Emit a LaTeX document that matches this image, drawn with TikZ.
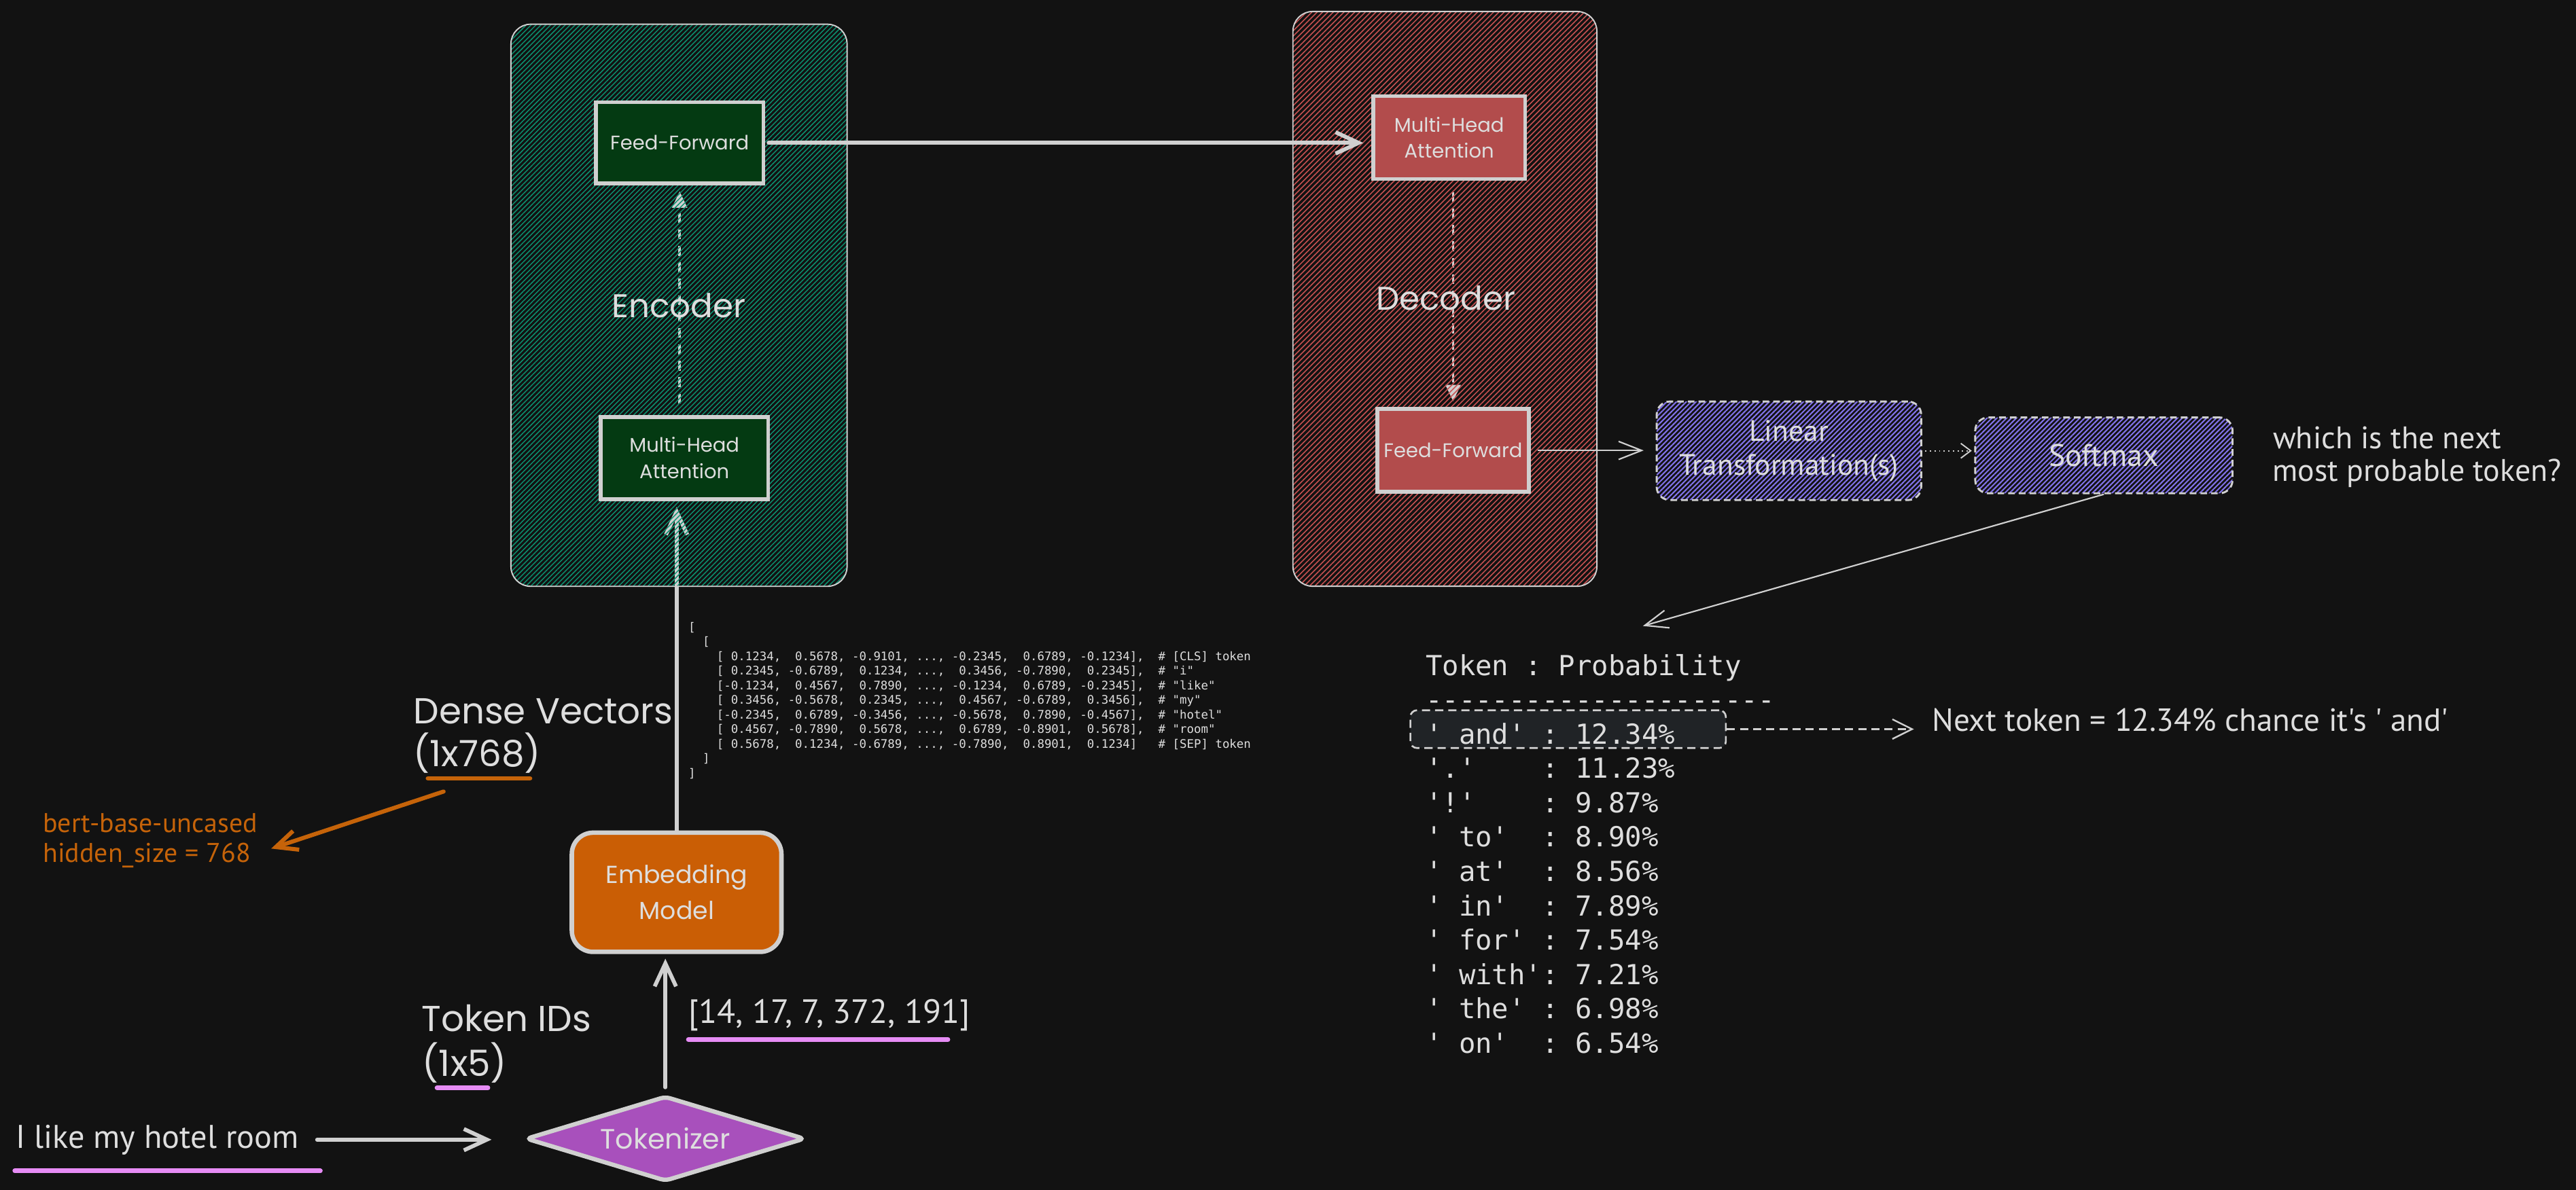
\documentclass[tikz,border=0pt]{standalone}
\usepackage{fontspec}
\newfontfamily\handfont{PT Sans}
\newfontfamily\boxfont{Poppins}
\setmonofont{DejaVu Sans Mono}
\usetikzlibrary{shapes.geometric,arrows.meta,positioning,patterns.meta}

\definecolor{canvas}{RGB}{18,18,18}
\definecolor{ink}{RGB}{222,222,222}
\definecolor{rim}{RGB}{208,208,208}
\definecolor{enchatch}{RGB}{12,145,112}
\definecolor{encfill}{RGB}{4,58,18}
\definecolor{dechatch}{RGB}{200,82,82}
\definecolor{decfill}{RGB}{178,76,76}
\definecolor{linhatch}{RGB}{130,115,235}
\definecolor{embfill}{RGB}{202,94,5}
\definecolor{tokfill}{RGB}{168,80,188}
\definecolor{penpink}{RGB}{230,140,245}
\definecolor{note}{RGB}{197,99,9}
\definecolor{pickfill}{RGB}{32,35,38}

\pgfdeclarelayer{under}
\pgfsetlayers{under,main}

\begin{document}
\begin{tikzpicture}[x=1pt, y=-1pt]
            \tikzstyle{stack} = [rectangle, draw=rim, line width=0.8pt, rounded corners=12pt, inner sep=0pt]
            \tikzstyle{encstack} = [stack, pattern={Lines[angle=45,distance=2.1pt,line width=0.6pt]}, pattern color=enchatch]
            \tikzstyle{decstack} = [stack, pattern={Lines[angle=45,distance=2.3pt,line width=0.65pt]}, pattern color=dechatch]
            \tikzstyle{stackname} = [text=ink, inner sep=0pt, font={\boxfont\fontsize{20}{24}\selectfont}]
            \tikzstyle{enclayer} = [rectangle, draw=rim, line width=2.3pt, fill=encfill, text=ink, align=center, inner sep=0pt, font={\boxfont\fontsize{12}{16}\selectfont}]
            \tikzstyle{declayer} = [enclayer, fill=decfill]
            \tikzstyle{headbox} = [rectangle, draw=rim, line width=1.2pt, dash pattern=on 4pt off 2.5pt, rounded corners=8pt, pattern={Lines[angle=45,distance=2.1pt,line width=0.85pt]}, pattern color=linhatch, text=ink, align=center, inner sep=0pt, font={\handfont\fontsize{18}{20.8}\selectfont}]
            \tikzstyle{embbox} = [rectangle, draw=rim, line width=2.7pt, fill=embfill, rounded corners=13pt, text=ink, align=center, inner sep=0pt, font={\boxfont\fontsize{15}{21.8}\selectfont}]
            \tikzstyle{tokbox} = [diamond, draw=rim, line width=2.6pt, fill=tokfill, rounded corners=3pt, aspect=3, text=ink, inner sep=0pt, font={\boxfont\fontsize{17}{20}\selectfont}]
            \tikzstyle{pickbox} = [rectangle, draw=rim, line width=1.1pt, dash pattern=on 5pt off 3pt, rounded corners=4pt, fill=pickfill, inner sep=0pt]
            \tikzstyle{bigtag} = [text=ink, inner sep=0pt, font={\boxfont\fontsize{22}{27}\selectfont}]
            \tikzstyle{handtag} = [text=ink, inner sep=0pt, font={\handfont\fontsize{20}{24}\selectfont}]
            \tikzstyle{notetag} = [text=note, inner sep=0pt, font={\handfont\fontsize{16.5}{18}\selectfont}]
            \tikzstyle{codeblock} = [text=ink, inner sep=0pt, align=left]
            \tikzstyle{arrow} = [draw=rim, line width=2.4pt, line cap=round, -{Straight Barb[length=14pt,width=13pt]}]
            \tikzstyle{thinarrow} = [draw=rim, line width=0.9pt, -{Straight Barb[length=14pt,width=11pt]}]
            \tikzstyle{flowarrow} = [draw=rim, line width=1.5pt, dash pattern=on 6pt off 4pt, -{Triangle[length=10pt,width=9pt]}]
            \tikzstyle{dotarrow} = [draw=rim, line width=0.8pt, dotted, -{Straight Barb[length=6pt,width=9pt]}]
            \tikzstyle{pickarrow} = [draw=rim, line width=1pt, dash pattern=on 5pt off 3pt, -{Straight Barb[length=12pt,width=12pt]}]
            \tikzstyle{notearrow} = [draw=note, line width=2.5pt, line cap=round, -{Straight Barb[length=13pt,width=12pt]}]
            \tikzstyle{scribble} = [draw=penpink, line width=2.8pt, line cap=round]

            \useasboundingbox (0,0) rectangle (1568,724.6);
            \begin{pgfonlayer}{under}
                \fill[canvas] (0,0) rectangle (1568,724.6);
            \end{pgfonlayer}

            % Encoder
            \node [encstack, minimum width=204.6pt, minimum height=342.3pt] (enc) at (413.3,185.9) {};
            \node [enclayer, minimum width=102pt, minimum height=49.5pt] (encff) at (413.7,87) {Feed-Forward};
            \node [enclayer, minimum width=102pt, minimum height=50pt] (encmha) at (416.6,278.9) {Multi-Head\\Attention};
            \node [stackname] (encname) at (enc.center) {Encoder};

            % Decoder
            \node [decstack, minimum width=185pt, minimum height=350pt] (dec) at (879.5,182) {};
            \node [declayer, minimum width=92.3pt, minimum height=50.5pt] (decmha) at (882.1,83.8) {Multi-Head\\Attention};
            \node [declayer, minimum width=92.3pt, minimum height=50.5pt] (decff) at (884.5,274.3) {Feed-Forward};
            \node [stackname] (decname) at (880,181.3) {Decoder};

            % Output head
            \node [headbox, minimum width=161pt, minimum height=60pt] (lin) at (1088.9,274.5) {Linear\\Transformation(s)};
            \node [headbox, minimum width=156.6pt, minimum height=46.2pt, font={\handfont\fontsize{19}{22}\selectfont}] (soft) at (1280.6,277.3) {Softmax};
            \node [handtag, anchor=base west, font={\handfont\fontsize{19}{22}\selectfont}] (q1) at (1383.4,273) {which is the next};
            \node [handtag, anchor=base west, font={\handfont\fontsize{19}{22}\selectfont}] (q2) at (1383,293) {most probable token?};
            \coordinate (pick) at (1000,381.2);

            % Probabilities
            \node [pickbox, minimum width=192pt, minimum height=23pt] (andbox) at (954.5,444) {};
            \node [codeblock, anchor=north west, font={\ttfamily\fontsize{16.8}{20.9}\selectfont}] (probs) at (867.6,398.2) {%
Token~:~Probability\\
---------------------\\
'~and'~:~12.34\%\\
'.'~~~~:~11.23\%\\
'!'~~~~:~9.87\%\\
'~to'~~:~8.90\%\\
'~at'~~:~8.56\%\\
'~in'~~:~7.89\%\\
'~for'~:~7.54\%\\
'~with':~7.21\%\\
'~the'~:~6.98\%\\
'~on'~~:~6.54\%};
            \node [handtag, anchor=base west, font={\handfont\fontsize{19.5}{23}\selectfont}] (nexttxt) at (1175.8,445.3) {Next token = 12.34\% chance it's ' and'};

            % Input side
            \node [handtag, anchor=base west] (inp) at (9.5,699) {I like my hotel room};
            \node [tokbox, minimum width=170pt, minimum height=52pt] (tok) at (405,693.4) {Tokenizer};
            \node [handtag, anchor=base west, font={\handfont\fontsize{20.5}{24}\selectfont}] (ids) at (419,623) {[14, 17, 7, 372, 191]};
            \node [bigtag, anchor=base west] (tokids) at (256.4,628) {Token IDs};
            \node [bigtag, anchor=base west] (tokdim) at (257,655.5) {(1x5)};
            \node [embbox, minimum width=127.6pt, minimum height=72.6pt] (emb) at (411.85,543.35) {Embedding\\Model};
            \node [bigtag, anchor=base west] (dense) at (251.5,440.5) {Dense Vectors};
            \node [bigtag, anchor=base west] (densedim) at (251.5,466.6) {(1x768)};
            \node [notetag, anchor=base west] (bert) at (26,507) {bert-base-uncased};
            \node [notetag, anchor=base west] (hidden) at (26,525) {hidden\_size = 768};
            \coordinate (dvtail) at (270,482);
            \node [codeblock, anchor=north west, font={\ttfamily\fontsize{7.2}{8.9}\selectfont}] (vecs) at (418.8,378.6) {%
[\\
~~[\\
~~~~[~0.1234,~~0.5678,~-0.9101,~...,~-0.2345,~~0.6789,~-0.1234],~~\#~[CLS]~token\\
~~~~[~0.2345,~-0.6789,~~0.1234,~...,~~0.3456,~-0.7890,~~0.2345],~~\#~"i"\\
~~~~[-0.1234,~~0.4567,~~0.7890,~...,~-0.1234,~~0.6789,~-0.2345],~~\#~"like"\\
~~~~[~0.3456,~-0.5678,~~0.2345,~...,~~0.4567,~-0.6789,~~0.3456],~~\#~"my"\\
~~~~[-0.2345,~~0.6789,~-0.3456,~...,~-0.5678,~~0.7890,~-0.4567],~~\#~"hotel"\\
~~~~[~0.4567,~-0.7890,~~0.5678,~...,~~0.6789,~-0.8901,~~0.5678],~~\#~"room"\\
~~~~[~0.5678,~~0.1234,~-0.6789,~...,~-0.7890,~~0.8901,~~0.1234]~~~\#~[SEP]~token\\
~~]\\
]};

            % Underlines
            \draw [scribble] (9,713) -- (195,713);
            \draw [scribble] (266,662.4) -- (297,662.4);
            \draw [scribble] (419,633) -- (577,633);
            \draw [scribble, draw=note] (260.5,474) -- (322.6,474);

            % Arrows (under the hatching)
            \begin{pgfonlayer}{under}
                \draw [arrow, shorten >=3.7pt] (emb.north) -- (emb.north |- encmha.south);
                \draw [flowarrow, shorten <=7pt, shorten >=3.6pt] (encff.south |- encmha.north) -- (encff.south);
                \draw [flowarrow, shorten <=6.8pt, shorten >=3.5pt] (decff.north |- decmha.south) -- (decff.north);
            \end{pgfonlayer}

            % Arrows
            \draw [arrow, shorten <=11pt, shorten >=19.5pt] (inp.east) -- (inp.east -| tok.west);
            \draw [arrow, shorten <=4pt, shorten >=2.8pt] (tok.north) -- (tok.north |- emb.south);
            \draw [arrow, shorten <=2pt, shorten >=5pt] (encff.east) -- (encff.east -| decmha.west);
            \draw [thinarrow, shorten <=4pt, shorten >=7.5pt] (decff.east) -- (decff.east -| lin.west);
            \draw [dotarrow, shorten <=2pt, shorten >=1.5pt] (lin.east) -- (lin.east -| soft.west);
            \draw [thinarrow] (soft.south) -- (pick);
            \draw [pickarrow, shorten >=10.8pt] (andbox.east) -- (andbox.east -| nexttxt.west);
            \draw [notearrow, shorten >=13pt] (dvtail) -- (hidden.east);
        \end{tikzpicture}
\end{document}
